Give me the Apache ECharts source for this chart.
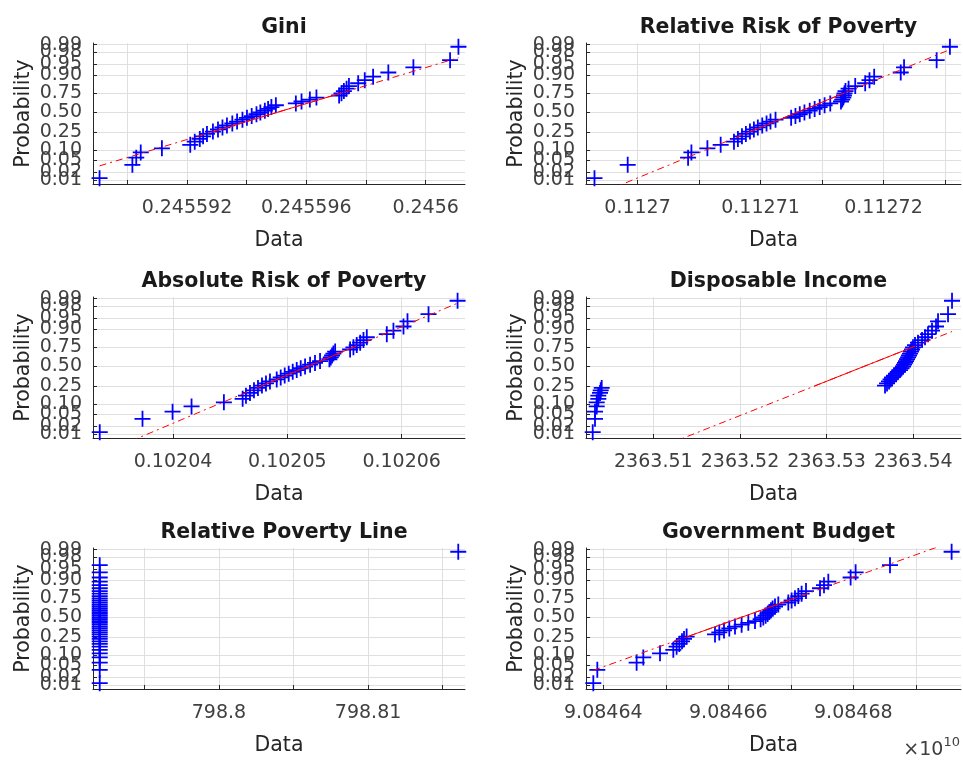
<!DOCTYPE html>
<html><head><meta charset="utf-8">
<script src="https://cdn.jsdelivr.net/npm/echarts@6/dist/echarts.min.js"></script>
<style>html,body{margin:0;padding:0;background:#fff}#c{width:963px;height:760px}</style>
</head><body><div id="c"></div>
<script>
// ---------- data (sorted sample values) ----------
const titles = ['Gini', 'Relative Risk of Poverty', 'Absolute Risk of Poverty', 'Disposable Income', 'Relative Poverty Line', 'Government Budget'];

const giniValues = [0.24558907,0.24559017,0.24559030,0.24559045,0.24559116,0.24559211,0.24559226,0.24559243,0.24559254,0.24559267,
 0.24559287,0.24559304,0.24559319,0.24559334,0.24559352,0.24559368,0.24559386,0.24559401,0.24559417,0.24559433,
 0.24559446,0.24559461,0.24559472,0.24559483,0.24559498,0.24559565,0.24559584,0.24559612,0.24559634,0.24559710,
 0.24559718,0.24559726,0.24559735,0.24559743,0.24559774,0.24559796,0.24559824,0.24559875,0.24559959,0.24560082,
 0.24560110];

const relRiskValues = [0.11269650,0.11269920,0.11270411,0.11270438,0.11270568,0.11270676,0.11270784,0.11270816,0.11270849,0.11270881,
 0.11270914,0.11270946,0.11270978,0.11271014,0.11271049,0.11271081,0.11271122,0.11271249,0.11271284,0.11271319,
 0.11271357,0.11271400,0.11271440,0.11271481,0.11271521,0.11271567,0.11271654,0.11271664,0.11271673,0.11271678,
 0.11271683,0.11271691,0.11271716,0.11271770,0.11271851,0.11271886,0.11271924,0.11272140,0.11272167,0.11272432,
 0.11272540];

const absRiskValues = [0.10203359,0.10203733,0.10203996,0.10204162,0.10204445,0.10204609,0.10204638,0.10204673,0.10204708,0.10204743,
 0.10204778,0.10204813,0.10204848,0.10204907,0.10204942,0.10204977,0.10205012,0.10205047,0.10205082,0.10205117,
 0.10205155,0.10205199,0.10205242,0.10205286,0.10205368,0.10205380,0.10205391,0.10205403,0.10205418,0.10205549,
 0.10205578,0.10205607,0.10205637,0.10205666,0.10205695,0.10205870,0.10205928,0.10206016,0.10206051,0.10206235,
 0.10206489];

const incomeValues = [2363.503008,2363.503273,2363.503273,2363.503469,2363.503469,2363.503654,2363.503654,2363.503850,2363.503931,2363.504046,
 2363.536734,2363.536964,2363.537195,2363.537368,2363.537541,2363.537772,2363.538003,2363.538233,2363.538464,2363.538637,
 2363.538810,2363.538926,2363.539041,2363.539157,2363.539272,2363.539387,2363.539503,2363.539618,2363.539734,2363.539849,
 2363.539964,2363.540195,2363.540541,2363.541003,2363.541349,2363.541695,2363.542156,2363.542618,2363.542849,2363.544003,
 2363.544464];

const povLineValues = [798.792003,798.792003,798.792003,798.792003,798.792003,798.792003,798.792003,798.792003,798.792003,798.792003,
 798.792003,798.792003,798.792003,798.792003,798.792003,798.792003,798.792003,798.792003,798.792003,798.792003,
 798.792003,798.792003,798.792003,798.792003,798.792003,798.792003,798.792003,798.792003,798.792003,798.792003,
 798.792003,798.792003,798.792003,798.792003,798.792003,798.792003,798.792003,798.792003,798.792003,798.792003,
 798.816048];

const budgetValues = [90846384000,90846390400,90846453300,90846464000,90846490700,90846512000,90846517300,90846521600,90846525900,90846529100,
 90846533300,90846578700,90846585600,90846593100,90846601600,90846610700,90846621300,90846632000,90846642700,90846651700,
 90846656000,90846659700,90846662900,90846665600,90846668300,90846670900,90846674700,90846680000,90846696000,90846701300,
 90846706700,90846712000,90846717300,90846724300,90846746700,90846753100,90846760000,90846795700,90846803700,90846858700,
 90846957300];

// probability-axis ticks (two label groups so that crowded labels overlap like the original)
const probTicks = [0.01, 0.02, 0.05, 0.10, 0.25, 0.50, 0.75, 0.90, 0.95, 0.98, 0.99];
const probLabels = ['0.01','0.02','0.05','0.10','0.25','0.50','0.75','0.90','0.95','0.98','0.99'];
const probLabelsA = [0.01, 0.05, 0.10, 0.25, 0.50, 0.75, 0.90, 0.95, 0.99];
const probLabelsB = [0.02, 0.98];

// x-axis ticks (grid lines) and labelled ticks per panel
const giniTicks = [0.24559,0.245592,0.245594,0.245596,0.245598,0.2456];
const giniLabelVals = [0.245592,0.245596,0.2456];
const giniLabels = ['0.245592','0.245596','0.2456'];
const relRiskTicks = [0.1127,0.112705,0.11271,0.112715,0.11272,0.112725];
const relRiskLabelVals = [0.1127,0.11271,0.11272];
const relRiskLabels = ['0.1127','0.11271','0.11272'];
const absRiskTicks = [0.10204,0.10205,0.10206];
const absRiskLabelVals = [0.10204,0.10205,0.10206];
const absRiskLabels = ['0.10204','0.10205','0.10206'];
const incomeTicks = [2363.51,2363.52,2363.53,2363.54];
const incomeLabelVals = [2363.51,2363.52,2363.53,2363.54];
const incomeLabels = ['2363.51','2363.52','2363.53','2363.54'];
const povLineTicks = [798.795,798.8,798.805,798.81,798.815];
const povLineLabelVals = [798.8,798.81];
const povLineLabels = ['798.8','798.81'];
const budgetTicks = [90846400000,90846500000,90846600000,90846700000,90846800000,90846900000];
const budgetLabelVals = [90846400000,90846600000,90846800000];
const budgetLabels = ['9.08464','9.08466','9.08468'];

// axis extents
const xMins = [0.24558885, 0.11269581, 0.102033, 2363.502234, 798.791552, 90846372300];
const xMaxs = [0.24560132, 0.1127263, 0.10206554, 2363.5455, 798.8165, 90846972300];
const zMin = -2.45, zMax = 2.38;

// ---------- helpers ----------
function norminv(p) {
  const a = [-3.969683028665376e+01, 2.209460984245205e+02, -2.759285104469687e+02, 1.383577518672690e+02, -3.066479806614716e+01, 2.506628277459239e+00];
  const b = [-5.447609879822406e+01, 1.615858368580409e+02, -1.556989798598866e+02, 6.680131188771972e+01, -1.328068155288572e+01];
  const c = [-7.784894002430293e-03, -3.223964580411365e-01, -2.400758277161838e+00, -2.549732539343734e+00, 4.374664141464968e+00, 2.938163982698783e+00];
  const d = [7.784695709041462e-03, 3.224671290700398e-01, 2.445134137142996e+00, 3.754408661907416e+00];
  const pl = 0.02425, ph = 1 - pl;
  let q, r;
  if (p < pl) { q = Math.sqrt(-2 * Math.log(p)); return (((((c[0]*q+c[1])*q+c[2])*q+c[3])*q+c[4])*q+c[5]) / ((((d[0]*q+d[1])*q+d[2])*q+d[3])*q+1); }
  if (p <= ph) { q = p - 0.5; r = q*q; return (((((a[0]*r+a[1])*r+a[2])*r+a[3])*r+a[4])*r+a[5])*q / (((((b[0]*r+b[1])*r+b[2])*r+b[3])*r+b[4])*r+1); }
  q = Math.sqrt(-2 * Math.log(1 - p));
  return -(((((c[0]*q+c[1])*q+c[2])*q+c[3])*q+c[4])*q+c[5]) / ((((d[0]*q+d[1])*q+d[2])*q+d[3])*q+1);
}
function prctile(s, pct) {           // MATLAB-style percentile of sorted data
  const n = s.length, pos = n * pct / 100 + 0.5;
  if (pos <= 1) return s[0];
  if (pos >= n) return s[n - 1];
  const lo = Math.floor(pos), f = pos - lo;
  return s[lo - 1] + f * (s[lo] - s[lo - 1]);
}
function labelFormatter(vals, texts) {
  return function (v) {
    let best = 0, bd = Infinity;
    vals.forEach((x, i) => { const dd = Math.abs(x - v); if (dd < bd) { bd = dd; best = i; } });
    return texts[best];
  };
}

const seriesValues = [giniValues, relRiskValues, absRiskValues, incomeValues, povLineValues, budgetValues];
const xTicks = [giniTicks, relRiskTicks, absRiskTicks, incomeTicks, povLineTicks, budgetTicks];
const xLabelVals = [giniLabelVals, relRiskLabelVals, absRiskLabelVals, incomeLabelVals, povLineLabelVals, budgetLabelVals];
const xLabels = [giniLabels, relRiskLabels, absRiskLabels, incomeLabels, povLineLabels, budgetLabels];

const FONT = 'DejaVu Sans';
const TXT = '#262626';
const LBL = '#404040';
const colLeft = [93, 586], colWidth = [372, 375];
const rowTop = [43, 297, 548], rowH = 141;
const probZ = probTicks.map(norminv);
const probFmt = labelFormatter(probZ, probLabels);

const grids = [], xAxes = [], yAxes = [], series = [], titleOpts = [];
for (let i = 0; i < 6; i++) {
  const col = i % 2, row = Math.floor(i / 2);
  grids.push({ left: colLeft[col], top: rowTop[row], width: colWidth[col], height: rowH, containLabel: false });
  titleOpts.push({ text: titles[i], left: colLeft[col] + colWidth[col] / 2, top: rowTop[row] - 31, textAlign: 'center',
    textStyle: { fontFamily: FONT, fontSize: 20.5, fontWeight: 'bold', color: '#1a1a1a' } });
  xAxes.push({
    gridIndex: i, type: 'value', min: xMins[i], max: xMaxs[i], scale: true,
    name: 'Data', nameLocation: 'middle', nameGap: 46,
    nameTextStyle: { fontFamily: FONT, fontSize: 20.5, color: TXT },
    axisLine: { show: true, onZero: false, lineStyle: { color: TXT, width: 1 } },
    axisTick: { show: true, inside: true, length: 4, customValues: xTicks[i], lineStyle: { color: TXT } },
    axisLabel: { customValues: xLabelVals[i], formatter: labelFormatter(xLabelVals[i], xLabels[i]),
      fontFamily: FONT, fontSize: 19, color: LBL, margin: 15, showMinLabel: true, showMaxLabel: true },
    splitLine: { show: true, lineStyle: { color: '#dfdfdf', width: 1 } }
  });
  // main probability axis
  yAxes.push({
    gridIndex: i, type: 'value', min: zMin, max: zMax, position: 'left',
    name: 'Probability', nameLocation: 'middle', nameGap: 59, nameRotate: 90,
    nameTextStyle: { fontFamily: FONT, fontSize: 20.5, color: TXT },
    axisLine: { show: true, onZero: false, lineStyle: { color: TXT, width: 1 } },
    axisTick: { show: true, inside: true, length: 4, customValues: probZ, lineStyle: { color: TXT } },
    axisLabel: { customValues: probLabelsA.map(norminv), formatter: probFmt,
      fontFamily: FONT, fontSize: 19, color: LBL, margin: 11, showMinLabel: true, showMaxLabel: true },
    splitLine: { show: true, lineStyle: { color: '#dfdfdf', width: 1 } }
  });
  // companion axis carrying the crowded labels (0.02, 0.98)
  yAxes.push({
    gridIndex: i, type: 'value', min: zMin, max: zMax, position: 'left', offset: 0,
    axisLine: { show: false, onZero: false }, axisTick: { show: false }, splitLine: { show: false },
    axisLabel: { customValues: probLabelsB.map(norminv), formatter: probFmt,
      fontFamily: FONT, fontSize: 19, color: LBL, margin: 11, showMinLabel: true, showMaxLabel: true }
  });
  const s = seriesValues[i].slice().sort((a, b) => a - b);
  const n = s.length;
  series.push({
    type: 'scatter', xAxisIndex: i, yAxisIndex: 2 * i,
    data: s.map((v, k) => [v, norminv((k + 0.5) / n)]),
    symbol: 'path://M8,0L8,16M0,8L16,8', symbolSize: 16,
    itemStyle: { color: 'rgba(0,0,0,0)', borderColor: '#0000ff', borderWidth: 1.8, opacity: 1 },
    z: 2
  });
  const q1x = prctile(s, 25), q3x = prctile(s, 75);
  if (q3x > q1x) {
    const q1y = norminv(0.25), q3y = norminv(0.75);
    const slope = (q3y - q1y) / (q3x - q1x), cx = (q1x + q3x) / 2;
    const minx = s[0], maxx = s[n - 1];
    series.push({
      type: 'line', xAxisIndex: i, yAxisIndex: 2 * i, showSymbol: false, symbol: 'none', clip: true,
      data: [[minx, slope * (minx - cx)], [maxx, slope * (maxx - cx)]],
      lineStyle: { color: '#ff0000', width: 1, type: [7, 4, 2, 4] }, z: 3
    });
    series.push({
      type: 'line', xAxisIndex: i, yAxisIndex: 2 * i, showSymbol: false, symbol: 'none', clip: true,
      data: [[q1x, q1y], [q3x, q3y]],
      lineStyle: { color: '#ff0000', width: 1, type: 'solid' }, z: 3
    });
  }
}

const chart = echarts.init(document.getElementById('c'), null, { renderer: 'canvas' });
chart.setOption({
  animation: false,
  backgroundColor: '#ffffff',
  title: titleOpts,
  grid: grids, xAxis: xAxes, yAxis: yAxes, series: series,
  graphic: [{
    type: 'text', right: 3, top: 736,
    style: { text: '{a|×10}{b|10}', rich: {
      a: { fontFamily: FONT, fontSize: 19, fill: LBL, verticalAlign: 'bottom', lineHeight: 24 },
      b: { fontFamily: FONT, fontSize: 13, fill: LBL, verticalAlign: 'top', lineHeight: 24, padding: [0, 0, 11, 0] }
    } }
  }]
});
</script>
</body></html>
